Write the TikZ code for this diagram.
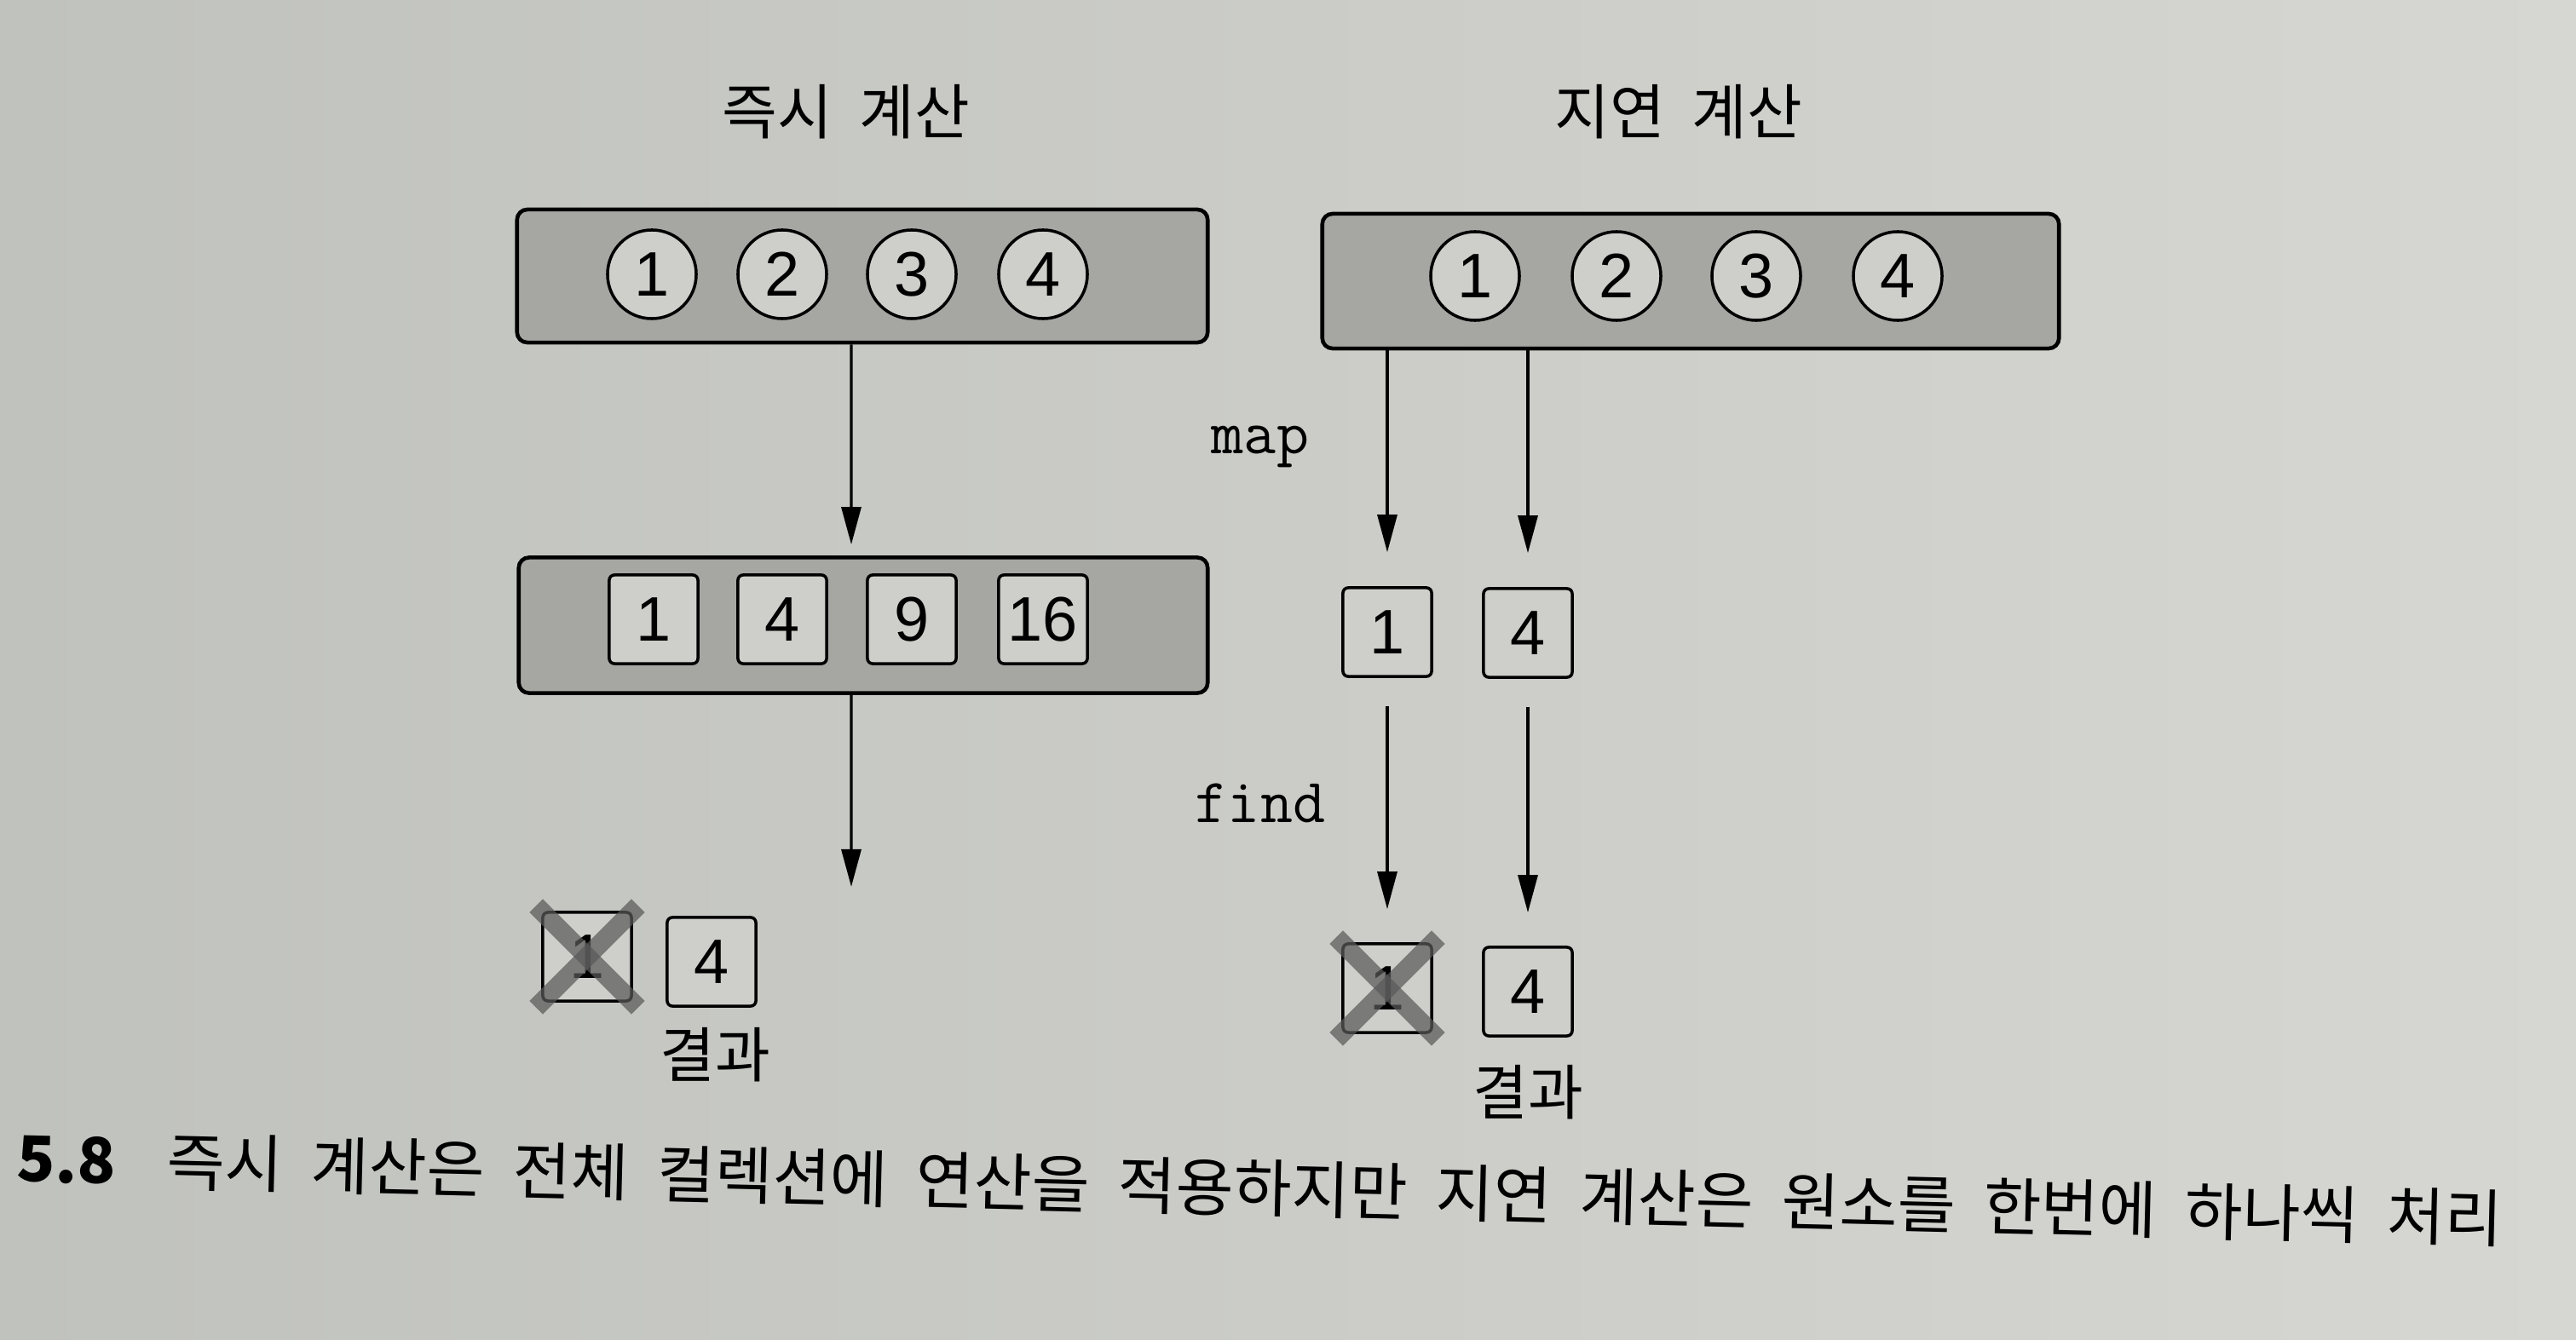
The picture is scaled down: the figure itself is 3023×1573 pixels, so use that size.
\documentclass[tikz,border=0pt]{standalone}
\usepackage{fontspec}
\setmainfont{Noto Sans CJK KR}[WordSpace=2]
\newfontfamily\numfont{Liberation Sans}
\usetikzlibrary{arrows.meta}

\definecolor{paperL}{RGB}{192,194,189}
\definecolor{paperR}{RGB}{214,214,210}
\definecolor{boxgray}{RGB}{166,166,163}
\definecolor{itemgray}{RGB}{206,206,202}
\definecolor{crossgray}{RGB}{90,90,90}

\tikzset{
	title/.style={font=\fontsize{20}{24}\selectfont},
	listbox/.style={draw, line width=1.3pt, rounded corners=0.12cm, fill=boxgray, minimum height=1.56cm},
	elem/.style={circle, draw, line width=1pt, fill=itemgray, minimum size=1.04cm, inner sep=0pt, font=\numfont\fontsize{21}{24}\selectfont},
	val/.style={draw, line width=1pt, rounded corners=0.06cm, fill=itemgray, minimum size=1.04cm, inner sep=0pt, font=\numfont\fontsize{21}{24}\selectfont},
	op/.style={font=\ttfamily\fontsize{21}{24}\selectfont},
	flow/.style={-{Triangle[length=0.44cm, width=0.23cm]}, line width=0.9pt},
	cross/.style={line width=0.22cm, draw=crossgray, opacity=0.72},
}

\begin{document}
\begin{tikzpicture}[x=0.01cm, y=-0.01cm]
	\shade[left color=paperL, right color=paperR] (0,0) rectangle (3023,1573);
	\useasboundingbox (0,0) rectangle (3023,1573);

	% eager side
	\node[title] (eagerT) at (993,131) {즉시 계산};
	\node[listbox, minimum width=8.1cm] (eagerIn) at (1012,324) {};
	\foreach \n/\x in {1/765, 2/918, 3/1070, 4/1224}
		\node[elem] (eagerIn\n) at (\x,322) {\n};
	\node[listbox, minimum width=8.08cm, minimum height=1.59cm] (eagerMap) at (1013,734) {};
	\foreach \n/\v/\x in {1/1/767, 2/4/918, 3/9/1070, 4/16/1224}
		\node[val] (eagerMap\n) at (\x,727) {\v};
	\coordinate (eagerEnd) at (999,1041);
	\draw[flow, shorten >=0.13cm] ([xshift=-0.13cm]eagerIn.south) -- ([xshift=-0.14cm]eagerMap.north);
	\draw[flow] ([xshift=-0.14cm]eagerMap.south) -- (eagerEnd);

	\node[val] (eagerRes1) at (689,1123) {1};
	\node[val] (eagerRes2) at (835,1129) {4};
	\draw[cross] ([shift={(-6,-6)}]eagerRes1.north west) -- ([shift={(6,6)}]eagerRes1.south east);
	\draw[cross] ([shift={(6,-6)}]eagerRes1.north east) -- ([shift={(-6,6)}]eagerRes1.south west);
	\node[title] (eagerLbl) at (839,1238) {결과};

	% lazy side
	\node[title] (lazyT) at (1970,131) {지연 계산};
	\node[listbox, minimum width=8.64cm, minimum height=1.58cm] (lazyIn) at (1984,330) {};
	\foreach \n/\x in {1/1731, 2/1897, 3/2061, 4/2227}
		\node[elem] (lazyIn\n) at (\x,324) {\n};

	\node[val] (lazyMap1) at (1628,742) {1};
	\node[val] (lazyMap2) at (1793,743) {4};
	\node[val] (lazyRes1) at (1628,1160) {1};
	\node[val] (lazyRes2) at (1793,1164) {4};
	\draw[cross] ([shift={(-6,-6)}]lazyRes1.north west) -- ([shift={(6,6)}]lazyRes1.south east);
	\draw[cross] ([shift={(6,-6)}]lazyRes1.north east) -- ([shift={(-6,6)}]lazyRes1.south west);
	\node[title] (lazyLbl) at (1793,1282) {결과};

	\draw[flow, shorten >=0.4cm] (lazyIn.south -| lazyMap1) -- (lazyMap1);
	\draw[flow, shorten >=0.4cm] (lazyIn.south -| lazyMap2) -- (lazyMap2);
	\draw[flow, shorten <=0.33cm, shorten >=0.39cm] (lazyMap1) -- (lazyRes1);
	\draw[flow, shorten <=0.33cm, shorten >=0.39cm] (lazyMap2) -- (lazyRes2);

	\node[op] (mapLbl) at (1479,524) {map};
	\node[op] (findLbl) at (1479,943) {find};

	% caption
	\node[anchor=west, rotate=-1.4, font=\fontsize{21}{25}\selectfont] (caption) at (8,1359)
		{\textbf{5.8}\hspace{0.6cm}즉시 계산은 전체 컬렉션에 연산을 적용하지만 지연 계산은 원소를 한번에 하나씩 처리};
\end{tikzpicture}
\end{document}
